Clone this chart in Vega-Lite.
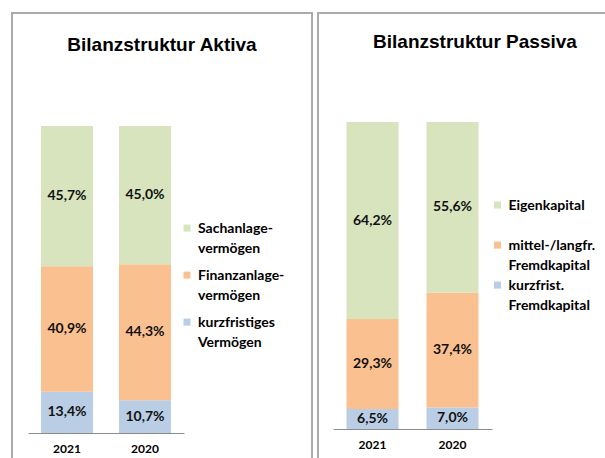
{
  "$schema": "https://vega.github.io/schema/vega-lite/v6.json",
  "padding": {"left": 11, "top": 12, "right": 0, "bottom": 0},
  "spacing": 4,
  "resolve": {"scale": {"color": "independent", "x": "independent", "y": "independent"}, "legend": {"color": "independent"}},
  "config": {
    "view": {"stroke": "#ababab", "strokeWidth": 2},
    "locale": {"number": {"decimal": ",", "thousands": ".", "grouping": [3], "currency": ["", " €"]}},
    "style": {"guide-label": {"lineHeight": 20}}
  },
  "hconcat": [
    {
      "width": 300,
      "height": 450,
      "title": {"text": "Bilanzstruktur Aktiva", "font": "Liberation Sans", "fontSize": 19, "fontWeight": "bold", "color": "#000000", "offset": -57, "baseline": "alphabetic", "anchor": "middle", "frame": "group"},
      "data": {"values": [
        {"Jahr": "2021", "Kategorie": "kurzfristiges|Vermögen", "Anteil": 0.134},
        {"Jahr": "2021", "Kategorie": "Finanzanlage-|vermögen", "Anteil": 0.409},
        {"Jahr": "2021", "Kategorie": "Sachanlage-|vermögen", "Anteil": 0.457},
        {"Jahr": "2020", "Kategorie": "kurzfristiges|Vermögen", "Anteil": 0.107},
        {"Jahr": "2020", "Kategorie": "Finanzanlage-|vermögen", "Anteil": 0.443},
        {"Jahr": "2020", "Kategorie": "Sachanlage-|vermögen", "Anteil": 0.450}
      ]},
      "transform": [
        {"calculate": "indexof(['kurzfristiges|Vermögen','Finanzanlage-|vermögen','Sachanlage-|vermögen'], datum.Kategorie)", "as": "Stapel"},
        {"stack": "Anteil", "groupby": ["Jahr"], "sort": [{"field": "Stapel", "order": "ascending"}], "as": ["y0", "y1"]},
        {"calculate": "(datum.y0 + datum.y1) / 2", "as": "ymid"}
      ],
      "encoding": {
        "x": {"field": "Jahr", "type": "nominal", "sort": ["2021", "2020"],
          "scale": {"range": [16, 172], "paddingInner": 0.3333, "paddingOuter": 0.1667},
          "axis": {"title": null, "labelAngle": 0, "ticks": false, "domainColor": "#8c8c8c", "domainWidth": 1, "offset": -30, "labelFont": "Lato", "labelFontWeight": "bold", "labelFontSize": 12, "labelColor": "#000000", "labelPadding": 10}}
      },
      "layer": [
        {
          "mark": {"type": "bar"},
          "encoding": {
            "y": {"field": "y0", "type": "quantitative", "scale": {"domain": [0, 1], "range": [420, 113]}, "axis": null},
            "y2": {"field": "y1"},
            "color": {"field": "Kategorie", "type": "nominal",
              "scale": {"domain": ["Sachanlage-|vermögen", "Finanzanlage-|vermögen", "kurzfristiges|Vermögen"], "range": ["#d7e4bd", "#fac090", "#b9cde5"]},
              "legend": {"orient": "none", "legendX": 168, "legendY": 213, "title": null, "symbolType": "M-1,-2.4H1V-0.4H-1Z", "symbolSize": 49, "symbolStrokeWidth": 0, "labelExpr": "split(datum.label, '|')", "labelFont": "Lato", "labelFontSize": 14, "labelFontWeight": "bold", "labelColor": "#000000", "labelBaseline": "alphabetic", "labelOffset": 4, "rowPadding": 13, "labelLimit": 0}}
          }
        },
        {
          "mark": {"type": "text", "font": "Lato", "fontSize": 14, "fontWeight": "bold", "color": "#111111", "baseline": "middle"},
          "encoding": {
            "y": {"field": "ymid", "type": "quantitative", "scale": {"domain": [0, 1], "range": [420, 113]}, "axis": null},
            "text": {"field": "Anteil", "type": "quantitative", "format": ".1%"}
          }
        }
      ]
    },
    {
      "width": 314,
      "height": 450,
      "title": {"text": "Bilanzstruktur Passiva", "font": "Liberation Sans", "fontSize": 19, "fontWeight": "bold", "color": "#000000", "offset": -54, "baseline": "alphabetic", "anchor": "middle", "frame": "group"},
      "data": {"values": [
        {"Jahr": "2021", "Kategorie": "kurzfrist.|Fremdkapital", "Anteil": 0.065},
        {"Jahr": "2021", "Kategorie": "mittel-/langfr.|Fremdkapital", "Anteil": 0.293},
        {"Jahr": "2021", "Kategorie": "Eigenkapital|", "Anteil": 0.642},
        {"Jahr": "2020", "Kategorie": "kurzfrist.|Fremdkapital", "Anteil": 0.070},
        {"Jahr": "2020", "Kategorie": "mittel-/langfr.|Fremdkapital", "Anteil": 0.374},
        {"Jahr": "2020", "Kategorie": "Eigenkapital|", "Anteil": 0.556}
      ]},
      "transform": [
        {"calculate": "indexof(['kurzfrist.|Fremdkapital','mittel-/langfr.|Fremdkapital','Eigenkapital|'], datum.Kategorie)", "as": "Stapel"},
        {"stack": "Anteil", "groupby": ["Jahr"], "sort": [{"field": "Stapel", "order": "ascending"}], "as": ["y0", "y1"]},
        {"calculate": "(datum.y0 + datum.y1) / 2", "as": "ymid"}
      ],
      "encoding": {
        "x": {"field": "Jahr", "type": "nominal", "sort": ["2021", "2020"],
          "scale": {"range": [15, 174], "paddingInner": 0.35, "paddingOuter": 0.169},
          "axis": {"title": null, "labelAngle": 0, "ticks": false, "domainColor": "#8c8c8c", "domainWidth": 1, "offset": -34, "labelFont": "Lato", "labelFontWeight": "bold", "labelFontSize": 12, "labelColor": "#000000", "labelPadding": 10}}
      },
      "layer": [
        {
          "mark": {"type": "bar"},
          "encoding": {
            "y": {"field": "y0", "type": "quantitative", "scale": {"domain": [0, 1], "range": [416, 109]}, "axis": null},
            "y2": {"field": "y1"},
            "color": {"field": "Kategorie", "type": "nominal",
              "scale": {"domain": ["Eigenkapital|", "mittel-/langfr.|Fremdkapital", "kurzfrist.|Fremdkapital"], "range": ["#d7e4bd", "#fac090", "#b9cde5"]},
              "legend": {"orient": "none", "legendX": 172.5, "legendY": 190, "title": null, "symbolType": "M-1,-2.4H1V-0.4H-1Z", "symbolSize": 49, "symbolStrokeWidth": 0, "labelExpr": "split(datum.label, '|')", "labelFont": "Lato", "labelFontSize": 14, "labelFontWeight": "bold", "labelColor": "#000000", "labelBaseline": "alphabetic", "labelOffset": 4, "rowPadding": 6, "labelLimit": 0}}
          }
        },
        {
          "mark": {"type": "text", "font": "Lato", "fontSize": 14, "fontWeight": "bold", "color": "#111111", "baseline": "middle"},
          "encoding": {
            "y": {"field": "ymid", "type": "quantitative", "scale": {"domain": [0, 1], "range": [416, 109]}, "axis": null},
            "text": {"field": "Anteil", "type": "quantitative", "format": ".1%"}
          }
        }
      ]
    }
  ]
}
